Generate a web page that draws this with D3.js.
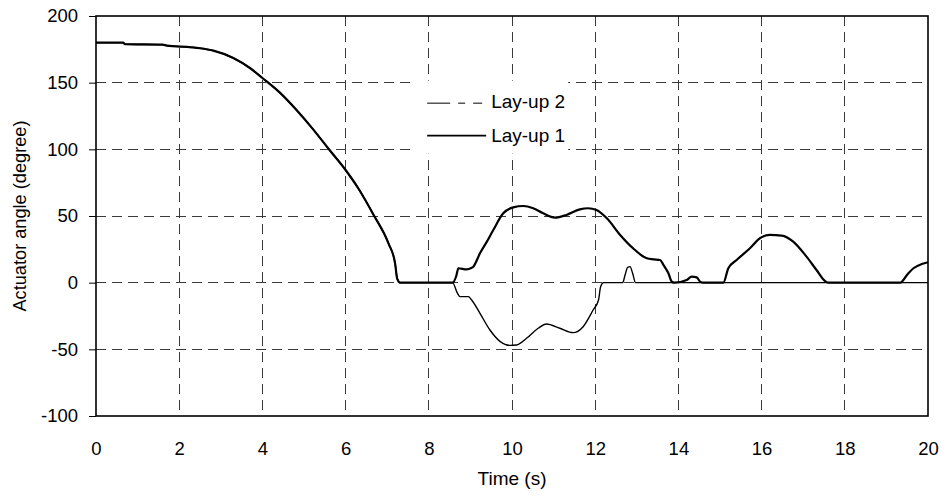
<!DOCTYPE html>
<html>
<head>
<meta charset="utf-8">
<script src="https://cdn.jsdelivr.net/npm/d3@7"></script>
<style>
  html, body { margin: 0; padding: 0; background: #fff; }
  text { font-family: "Liberation Sans", Arial, Helvetica, sans-serif; fill: #000; }
</style>
</head>
<body>
<svg id="chart" width="946" height="499"></svg>
<script>
// ---------- Data ----------
const xTicks = [0, 2, 4, 6, 8, 10, 12, 14, 16, 18, 20];
const yTicks = [-100, -50, 0, 50, 100, 150, 200];
const xLabel = "Time (s)";
const yLabel = "Actuator angle (degree)";
const seriesNames = ["Lay-up 2", "Lay-up 1"];

// common falling phase (both lay-ups coincide)
const timeCommon = [0, 0.65, 0.7, 1.6, 1.7, 2.3, 2.5, 2.82, 3.3, 3.7, 4.0, 4.42, 4.82, 5.22, 5.58, 6.0, 6.3, 6.67, 7.03, 7.19, 7.24, 7.31];
const valueCommon = [180, 180, 178.8, 178.5, 177.8, 176.5, 175.8, 174, 168.5, 161, 153.5, 142.5, 129.5, 115, 100.8, 84.5, 71, 51, 29.5, 14.5, 3, 0];

// Lay-up 1 after the fall
const timeLayup1 = [8.57, 8.66, 8.71, 8.91, 9.02, 9.07, 9.23, 9.4, 9.55, 9.79, 10.03, 10.27, 10.51, 10.75, 11.03, 11.31, 11.63, 11.83, 12.03, 12.28, 12.6, 12.91, 13.24, 13.4, 13.56, 13.64, 13.76, 13.84, 13.9, 14.2, 14.32, 14.44, 14.52, 14.6, 15.08, 15.2, 15.4, 15.72, 15.96, 16.2, 16.48, 16.76, 17.08, 17.32, 17.52, 17.6, 19.33, 19.5, 19.65, 19.85, 20];
const valueLayup1 = [0, 5, 10.8, 10, 11, 12, 22, 31, 39.5, 52, 56.5, 57.5, 55.8, 52, 48.8, 50.8, 55, 55.8, 54.5, 48.3, 35.8, 25.8, 18.3, 17.5, 17, 13.3, 7, 0.8, 0, 2, 4.5, 4, 0.8, 0, 0, 10.8, 17, 25.8, 33.3, 35.8, 35.3, 30.8, 19.5, 9.5, 1.3, 0, 0, 6, 10.8, 14, 15.3];

// Lay-up 2 after the fall
const timeLayup2 = [8.57, 8.69, 8.75, 8.95, 9.03, 9.23, 9.47, 9.71, 9.95, 10.11, 10.35, 10.63, 10.83, 11.15, 11.47, 11.71, 11.95, 12.08, 12.13, 12.2, 12.66, 12.72, 12.78, 12.84, 12.9, 12.97, 20];
const valueLayup2 = [0, -8, -10.5, -10.5, -13, -23, -35.5, -44, -47, -46.7, -41.7, -34.2, -31, -34.2, -37.5, -33, -20.5, -13, -3, 0, 0, 6, 11.5, 12, 7, 0, 0];

// ---------- Build series ----------
const common = timeCommon.map((t, i) => ({ t, v: valueCommon[i] }));
const layup1 = common.concat(timeLayup1.map((t, i) => ({ t, v: valueLayup1[i] })));
const layup2 = common.concat(timeLayup2.map((t, i) => ({ t, v: valueLayup2[i] })));

// ---------- Layout ----------
const svg = d3.select("#chart");
const margin = { left: 96, top: 16, right: 18, bottom: 83 };
const W = 946, H = 499;
const iw = W - margin.left - margin.right;  // 832
const ih = H - margin.top - margin.bottom;  // 400

const x = d3.scaleLinear().domain([0, 20]).range([0, iw]);
const y = d3.scaleLinear().domain([-100, 200]).range([ih, 0]);

const g = svg.append("g").attr("transform", `translate(${margin.left},${margin.top})`);

// gridlines
const gridColor = "#3a3a3a";
g.append("g")
  .selectAll("line.vgrid")
  .data(xTicks.filter(d => d > 0 && d < 20))
  .join("line")
  .attr("x1", d => x(d)).attr("x2", d => x(d))
  .attr("y1", 0).attr("y2", ih)
  .attr("stroke", gridColor).attr("stroke-width", 1)
  .attr("stroke-dasharray", "10,6")
  .attr("shape-rendering", "crispEdges");

g.append("g")
  .selectAll("line.hgrid")
  .data(yTicks.filter(d => d > -100 && d < 200))
  .join("line")
  .attr("x1", 0).attr("x2", iw)
  .attr("y1", d => y(d)).attr("y2", d => y(d))
  .attr("stroke", gridColor).attr("stroke-width", 1)
  .attr("stroke-dasharray", "10,6")
  .attr("shape-rendering", "crispEdges");

// axes
const fmt = d => String(d);
const yAxis = d3.axisLeft(y).tickValues(yTicks).tickSize(7).tickPadding(11).tickFormat(fmt);
const yg = g.append("g").call(yAxis);
yg.select(".domain").remove();
yg.selectAll(".tick line").attr("stroke", "#000").attr("stroke-width", 1);
yg.selectAll(".tick text").attr("font-size", 18.5).attr("font-family", "Liberation Sans, Arial, sans-serif").attr("fill", "#000");

const xAxis = d3.axisBottom(x).tickValues(xTicks).tickSize(0).tickPadding(26).tickFormat(fmt);
const xg = g.append("g").attr("transform", `translate(0,${ih})`).call(xAxis);
xg.select(".domain").remove();
xg.selectAll(".tick text").attr("font-size", 18.5).attr("font-family", "Liberation Sans, Arial, sans-serif").attr("fill", "#000");

// legend (white box hides gridlines behind)
const legend = g.append("g").attr("transform", `translate(${x(7.6)},${y(151.5)})`);
legend.append("rect").attr("x", 0).attr("y", 0).attr("width", 156).attr("height", 73).attr("fill", "#fff");
legend.append("line").attr("x1", 15).attr("x2", 70).attr("y1", 22.5).attr("y2", 22.5)
  .attr("stroke", "#000").attr("stroke-width", 1).attr("stroke-dasharray", "23,8,7,8,9");
legend.append("line").attr("x1", 15).attr("x2", 74).attr("y1", 55).attr("y2", 55)
  .attr("stroke", "#000").attr("stroke-width", 1.6);
legend.append("text").attr("x", 79).attr("y", 27).attr("font-size", 19).text(seriesNames[0]);
legend.append("text").attr("x", 79).attr("y", 61.5).attr("font-size", 19).text(seriesNames[1]);

// lines
const line = d3.line().x(d => x(d.t)).y(d => y(d.v)).curve(d3.curveMonotoneX);
g.append("path").datum(layup2).attr("d", line)
  .attr("fill", "none").attr("stroke", "#000").attr("stroke-width", 1.4).attr("stroke-linejoin", "round");
g.append("path").datum(layup1).attr("d", line)
  .attr("fill", "none").attr("stroke", "#000").attr("stroke-width", 2.2).attr("stroke-linejoin", "round");

// frame
g.append("rect").attr("x", 0).attr("y", 0).attr("width", iw).attr("height", ih)
  .attr("fill", "none").attr("stroke", "#000").attr("stroke-width", 1.6);

// axis titles
svg.append("text")
  .attr("x", margin.left + iw / 2).attr("y", 485)
  .attr("text-anchor", "middle").attr("font-size", 19)
  .text(xLabel);
svg.append("text")
  .attr("transform", `translate(26,${margin.top + ih / 2}) rotate(-90)`)
  .attr("text-anchor", "middle").attr("font-size", 18.2)
  .text(yLabel);
</script>
</body>
</html>
